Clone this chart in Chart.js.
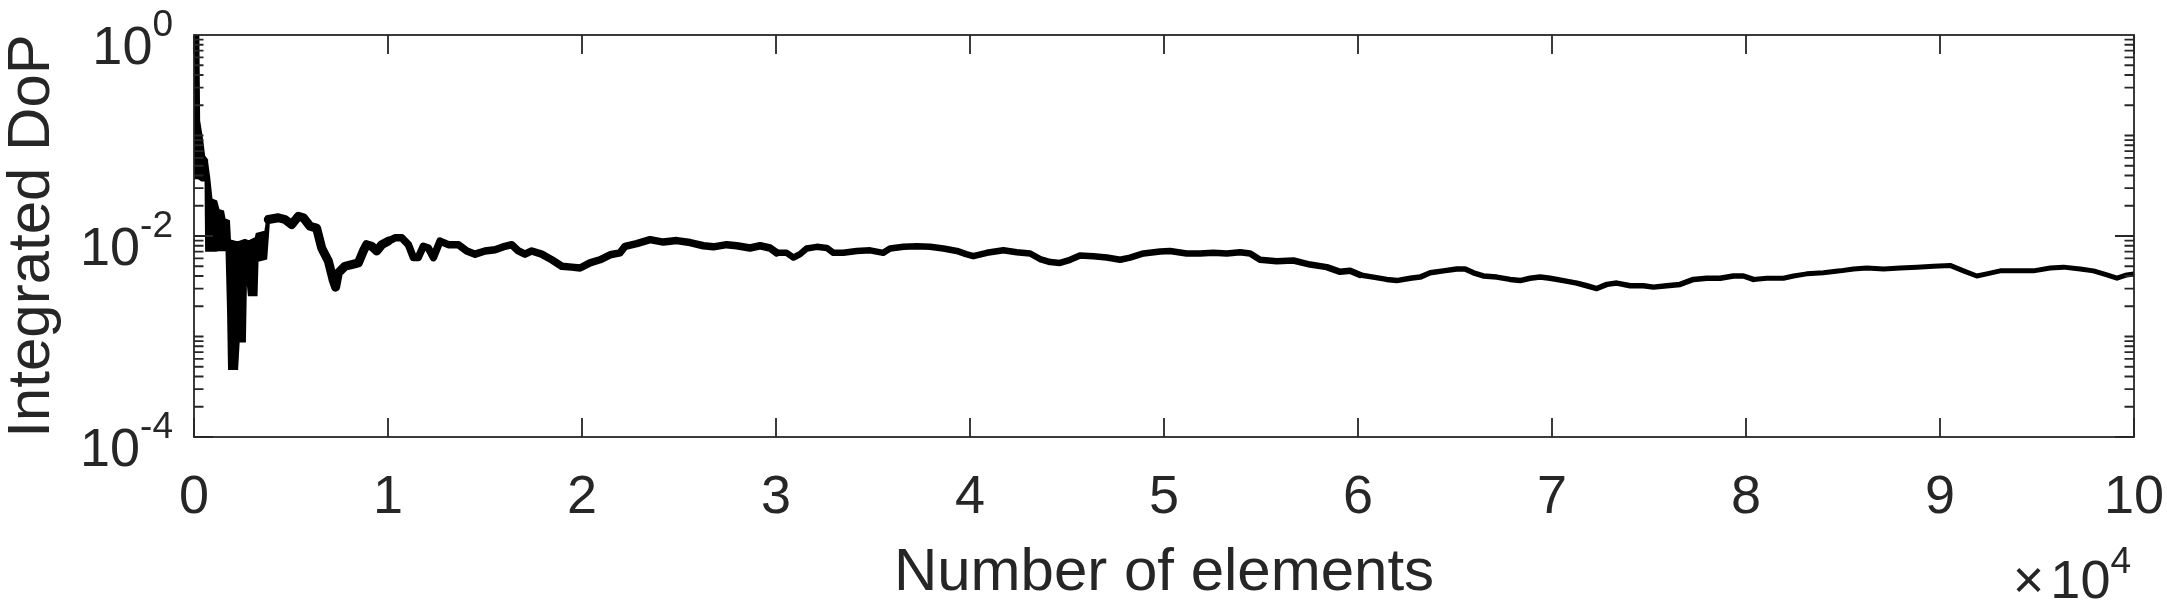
<!DOCTYPE html>
<html>
<head>
<meta charset="utf-8">
<script src="https://cdn.jsdelivr.net/npm/chart.js"></script>
<style>
  body { margin: 0; background: #fff; }
  #wrap { width: 2167px; height: 607px; }
</style>
</head>
<body>
<div id="wrap"><canvas id="myChart" width="2167" height="607"></canvas></div>
<script>
// early part: the curve swings so fast it shows as a solid band
const bandX    = [0, 200, 240, 400, 500, 620, 650, 760, 880, 1130, 1250, 1480, 1560, 1700, 1780, 1830, 2200, 2280, 2600, 2650, 2800, 2850, 3200, 3250, 3700, 3830]
const bandHigh = [1.0, 1.0, 0.14, 0.09, 0.062, 0.058, 0.055, 0.038, 0.023, 0.022, 0.018, 0.0175, 0.0145, 0.0142, 0.014, 0.009, 0.0086, 0.0086, 0.009, 0.009, 0.0088, 0.0088, 0.0095, 0.0104, 0.011, 0.016]
const bandLow  = [0.038, 0.038, 0.038, 0.036, 0.036, 0.036, 0.0072, 0.0072, 0.0072, 0.0072, 0.0073, 0.0073, 0.0073, 0.0073, 0.0018, 0.00048, 0.00048, 0.0009, 0.0009, 0.0033, 0.0033, 0.0026, 0.0026, 0.0057, 0.006, 0.0133]

const elements = [3830, 4350, 4690, 5040, 5380, 5640, 5980, 6320, 6580, 6930, 7180, 7300, 7440, 7780, 8130, 8470, 8730, 8900, 9160, 9420, 9680,
  10020, 10360, 10710, 11050, 11310, 11560, 11820, 12080, 12340, 12680, 13110, 13630, 14060, 14490, 15000, 15520, 16030, 16380, 16720, 17060,
  17410, 17920, 18440, 18960, 19470, 19900, 20410, 20930, 21450, 21960, 22220, 22820, 23510, 24190, 24880, 25570, 26260, 26770, 27460, 27980,
  28660, 29180, 29690, 30040, 30550, 30900, 31240, 31580, 32100, 32620, 32960, 33470, 34160, 34850, 35530, 35880, 36570, 37260, 37940, 38630,
  39320, 39800, 40170, 40870, 41720, 42410, 43100, 43610, 44130, 44640, 45160, 45670, 46360, 47050, 47740, 48250, 48940, 49800, 50310, 51170,
  51860, 52540, 53240, 53920, 54440, 54950, 55810, 56670, 57530, 58390, 59080, 59590, 60110, 60790, 61480, 62000, 62690, 63200, 63720, 64400,
  65090, 65520, 65950, 66460, 67150, 67840, 68360, 68870, 69390, 69900, 70590, 71280, 71790, 72310, 72830, 73340, 74030, 74710, 75230, 75920,
  76600, 77290, 77980, 78670, 79350, 79870, 80380, 81070, 81930, 82450, 83130, 83990, 84850, 85540, 86230, 87090, 87950, 88810, 89670, 90520,
  91210, 91900, 92410, 93100, 93960, 94820, 95680, 96360, 97230, 97910, 98600, 99120, 99630, 100000]
const dop = [0.0146, 0.0152, 0.0146, 0.013, 0.0157, 0.0152, 0.0125, 0.012, 0.0076, 0.0056, 0.0036, 0.0031, 0.0043, 0.005, 0.0052, 0.0054, 0.0071, 0.0082, 0.0079, 0.0071, 0.0082,
  0.0089, 0.0096, 0.0096, 0.0082, 0.0061, 0.0061, 0.0079, 0.0076, 0.0061, 0.0089, 0.0082, 0.0082, 0.0071, 0.0066, 0.0071, 0.0073, 0.0079, 0.0082, 0.0071, 0.0066,
  0.0071, 0.0066, 0.0058, 0.005, 0.0049, 0.0048, 0.0054, 0.0058, 0.0065, 0.0068, 0.0079, 0.0084, 0.0092, 0.0087, 0.009, 0.0086, 0.008, 0.0078, 0.0082, 0.008,
  0.0076, 0.008, 0.0076, 0.0068, 0.0068, 0.0061, 0.0066, 0.0075, 0.0078, 0.0076, 0.0068, 0.0068, 0.0071, 0.0072, 0.0068, 0.0075, 0.0078, 0.0079, 0.0078, 0.0075,
  0.0071, 0.0066, 0.0063, 0.0068, 0.0072, 0.0069, 0.0067, 0.0059, 0.0055, 0.0054, 0.0058, 0.0064, 0.0063, 0.0061, 0.0058, 0.0061, 0.0067, 0.007, 0.0071, 0.0067,
  0.0067, 0.0068, 0.0067, 0.0069, 0.0067, 0.0058, 0.0056, 0.0057, 0.0052, 0.0049, 0.0044, 0.0045, 0.0041, 0.0039, 0.0037, 0.0036, 0.0038, 0.0039, 0.0043, 0.0045,
  0.0047, 0.0047, 0.0043, 0.004, 0.0039, 0.0037, 0.0036, 0.0038, 0.0039, 0.0038, 0.0036, 0.0034, 0.0032, 0.003, 0.0033, 0.0034, 0.0032, 0.0032, 0.0031, 0.0032,
  0.0033, 0.0037, 0.0038, 0.0038, 0.004, 0.004, 0.0037, 0.0038, 0.0038, 0.004, 0.0042, 0.0043, 0.0045, 0.0047, 0.0048, 0.0047, 0.0048, 0.0049, 0.005, 0.0051,
  0.0045, 0.004, 0.0042, 0.0045, 0.0045, 0.0045, 0.0048, 0.0049, 0.0047, 0.0045, 0.0041, 0.0038, 0.0041, 0.0042]

const xTickValues = [0, 10000, 20000, 30000, 40000, 50000, 60000, 70000, 80000, 90000, 100000]
const xTickLabels = ['0', '1', '2', '3', '4', '5', '6', '7', '8', '9', '10']
const yTickValues = [1, 1e-2, 1e-4]
const yTickExps = ['0', '-2', '-4']

const axisColor = '#262626'
const fontFamily = "'Liberation Sans', Arial, Helvetica, sans-serif"

const toPoints = (xs, ys) => xs.map((x, i) => ({x: x, y: ys[i]}))

const matlabAxes = {
  id: 'matlabAxes',
  afterDraw(chart) {
    const ctx = chart.ctx
    const a = chart.chartArea
    const x = chart.scales.x
    const y = chart.scales.y
    ctx.save()
    ctx.strokeStyle = axisColor
    ctx.lineWidth = 1.8
    ctx.strokeRect(a.left, a.top, a.right - a.left, a.bottom - a.top)

    ctx.beginPath()
    xTickValues.forEach(v => {
      const px = x.getPixelForValue(v)
      ctx.moveTo(px, a.bottom); ctx.lineTo(px, a.bottom - 19)
      ctx.moveTo(px, a.top); ctx.lineTo(px, a.top + 19)
    })
    for (let e = -4; e < 0; e++) {
      for (let m = 1; m <= 9; m++) {
        const v = m * Math.pow(10, e)
        const py = y.getPixelForValue(v)
        const len = (m === 1 && e % 2 === 0) ? 19 : 9.5
        ctx.moveTo(a.left, py); ctx.lineTo(a.left + len, py)
        ctx.moveTo(a.right, py); ctx.lineTo(a.right - len, py)
      }
    }
    ctx.stroke()

    ctx.fillStyle = axisColor
    ctx.textBaseline = 'alphabetic'
    ctx.textAlign = 'center'
    ctx.font = '54px ' + fontFamily
    xTickValues.forEach((v, i) => {
      ctx.fillText(xTickLabels[i], x.getPixelForValue(v), 513)
    })

    ctx.textAlign = 'right'
    yTickValues.forEach((v, i) => {
      const py = y.getPixelForValue(v)
      ctx.font = '37px ' + fontFamily
      ctx.fillText(yTickExps[i], 173, py + 1)
      const w = ctx.measureText(yTickExps[i]).width
      ctx.font = '54px ' + fontFamily
      ctx.fillText('10', 173 - w, py + 28.5)
    })

    // x10^4 multiplier
    ctx.font = '37px ' + fontFamily
    ctx.fillText('4', 2131, 573)
    const w4 = ctx.measureText('4').width
    ctx.font = '54px ' + fontFamily
    ctx.fillText('10', 2131 - w4, 598)
    const w10 = ctx.measureText('10').width
    ctx.fillText('\u00d7', 2131 - w4 - w10 - 6, 598)

    ctx.font = '60px ' + fontFamily
    ctx.textAlign = 'center'
    ctx.fillText('Number of elements', (a.left + a.right) / 2, 590)
    ctx.translate(49, (a.top + a.bottom) / 2)
    ctx.rotate(-Math.PI / 2)
    ctx.fillText('Integrated DoP', 0, 0)
    ctx.restore()
  }
}

const lineWidthAt = x => x < 10000 ? 9 : x < 30000 ? 7.5 : x < 60000 ? 6.5 : x < 80000 ? 5.5 : 5

const config = {
  type: 'line',
  data: {
    datasets: [
      {
        label: 'band high',
        data: toPoints(bandX, bandHigh),
        borderColor: '#000',
        borderWidth: 3,
        pointRadius: 0,
        fill: false,
      },
      {
        label: 'band low',
        data: toPoints(bandX, bandLow),
        borderColor: '#000',
        backgroundColor: '#000',
        borderWidth: 3,
        pointRadius: 0,
        fill: '-1',
      },
      {
        label: 'Integrated DoP',
        data: toPoints(elements, dop),
        borderColor: '#000',
        borderWidth: 6,
        borderJoinStyle: 'round',
        borderCapStyle: 'round',
        pointRadius: 0,
        fill: false,
        segment: {
          borderWidth: c => lineWidthAt(c.p0.parsed.x),
        },
      },
    ],
  },
  options: {
    responsive: false,
    animation: false,
    devicePixelRatio: 1,
    layout: { padding: { top: 35, right: 33, bottom: 0, left: 0 } },
    plugins: {
      legend: { display: false },
      title: { display: false },
      tooltip: { enabled: false },
    },
    scales: {
      x: {
        type: 'linear',
        min: 0,
        max: 100000,
        grid: { display: false },
        border: { display: false },
        ticks: { display: false },
        afterFit: s => { s.height = 170 },
      },
      y: {
        type: 'logarithmic',
        min: 1e-4,
        max: 1,
        grid: { display: false },
        border: { display: false },
        ticks: { display: false },
        afterFit: s => { s.width = 194 },
      },
    },
  },
  plugins: [matlabAxes],
}

const dopChart = new Chart(document.getElementById('myChart').getContext('2d'), config)
</script>
</body>
</html>
